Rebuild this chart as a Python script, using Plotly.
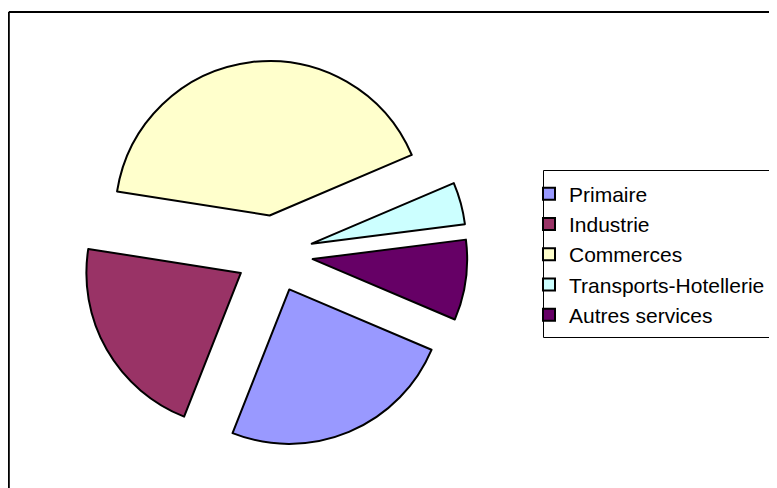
import plotly.graph_objects as go

labels = ["Primaire", "Industrie", "Commerces", "Transports-Hotellerie", "Autres services"]
values = [24.6, 21.5, 41.1, 4.4, 8.4]
colors = ["#9999FF", "#993366", "#FFFFCC", "#CCFFFF", "#660066"]

OFF = 8          # default page body margin
FW, FH = 777 - OFF, 488 - OFF   # figure reaches the window's right and bottom edges

def px(x):
    return (x - OFF) / FW

def py(y):
    return 1 - (y - OFF) / FH

fig = go.Figure(go.Pie(
    labels=labels,
    values=values,
    sort=False,
    direction="clockwise",
    rotation=113,
    pull=[0.25] * len(values),
    marker=dict(colors=colors, line=dict(color="#000000", width=2)),
    textinfo="none",
    hoverinfo="label+percent",
    domain=dict(x=[px(81.3), px(467.5)], y=[py(446.9), py(60.7)]),
))

frame = dict(color="#000000", width=2)
box = dict(color="#000000", width=1)
fig.update_layout(
    width=FW, height=FH,
    margin=dict(l=0, r=0, t=0, b=0, autoexpand=False),
    paper_bgcolor="white",
    plot_bgcolor="white",
    font=dict(family="Arial, Liberation Sans, sans-serif", color="#000000"),
    showlegend=True,
    legend=dict(
        x=px(529), xanchor="left",
        y=py(254.5), yanchor="middle",
        font=dict(size=21, family="Arial, Liberation Sans, sans-serif", color="#000000"),
        bgcolor="rgba(0,0,0,0)",
        borderwidth=0,
    ),
    shapes=[
        # outer chart frame (right/bottom edges lie outside the view)
        dict(type="line", xref="paper", yref="paper", x0=0.8 / FW, x1=1.0, y0=py(12), y1=py(12),
             line=frame, layer="below"),
        dict(type="line", xref="paper", yref="paper", x0=0.8 / FW, x1=0.8 / FW, y0=0.0, y1=py(12),
             line=frame, layer="below"),
        # legend box (right edge outside the view)
        dict(type="line", xref="paper", yref="paper", x0=px(543.5), x1=1.0, y0=py(170.5), y1=py(170.5),
             line=box, layer="below"),
        dict(type="line", xref="paper", yref="paper", x0=px(543.5), x1=1.0, y0=py(337.5), y1=py(337.5),
             line=box, layer="below"),
        dict(type="line", xref="paper", yref="paper", x0=px(543.5), x1=px(543.5), y0=py(337.5), y1=py(170.5),
             line=box, layer="below"),
    ],
)

fig.write_html("out.html")
